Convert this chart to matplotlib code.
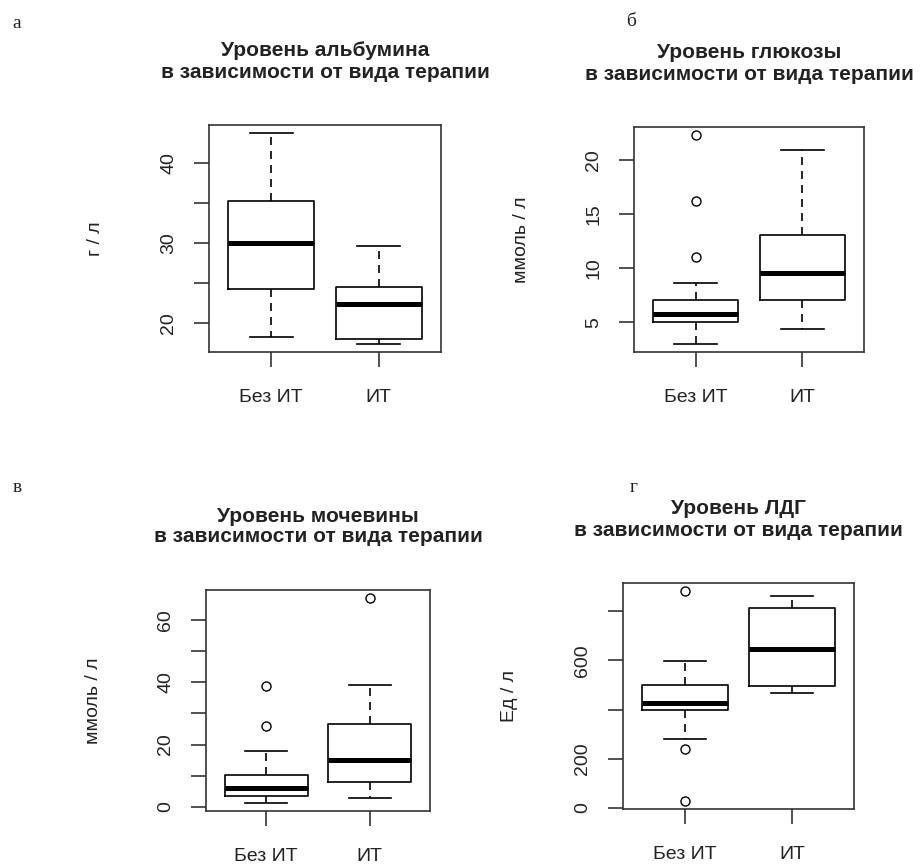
import matplotlib.pyplot as plt

# groups on the x axis
groups = ['Без ИТ', 'ИТ']

# box statistics: [Без ИТ, ИТ]
alb_low = [18.2, 17.4]
alb_q1 = [24.2, 18.0]
alb_med = [30.0, 22.3]
alb_q3 = [35.2, 24.5]
alb_high = [43.7, 29.6]
alb_out = [[], []]

glu_low = [3.0, 4.4]
glu_q1 = [5.0, 7.0]
glu_med = [5.75, 9.55]
glu_q3 = [7.0, 13.05]
glu_high = [8.6, 20.9]
glu_out = [[11.05, 16.2, 22.3], []]

urea_low = [1.3, 2.7]
urea_q1 = [3.4, 8.0]
urea_med = [5.9, 15.2]
urea_q3 = [10.1, 26.6]
urea_high = [17.9, 39.0]
urea_out = [[26.0, 38.9], [67.0]]

ldh_low = [281, 467]
ldh_q1 = [400, 495]
ldh_med = [428, 647]
ldh_q3 = [501, 814]
ldh_high = [596, 861]
ldh_out = [[30, 240, 881], []]

letters = ['а', 'б', 'в', 'г']
titles = ['Уровень альбумина', 'Уровень глюкозы', 'Уровень мочевины', 'Уровень ЛДГ']
subtitle = 'в зависимости от вида терапии'
ylabels = ['г / л', 'ммоль / л', 'ммоль / л', 'Ед / л']

yticks = [[20, 25, 30, 35, 40], [5, 10, 15, 20],
          [0, 10, 20, 30, 40, 50, 60], [0, 200, 400, 600, 800]]
ytick_labels = [['20', '', '30', '', '40'], ['5', '10', '15', '20'],
                ['0', '', '20', '', '40', '', '60'], ['0', '200', '', '600', '']]

W, H = 923, 868
fig = plt.figure(figsize=(W / 100, H / 100), dpi=100)

# axes boxes in pixels: left, top, right, bottom
boxes = [(209, 125, 441, 352), (634, 127, 864, 352),
         (206, 590, 430, 811), (623, 583, 854, 809)]
letter_pos = [(17, 24), (631, 21), (17, 487), (634, 488)]
ylabel_x = [96, 521, 93, 510]

data = [
    (alb_low, alb_q1, alb_med, alb_q3, alb_high, alb_out),
    (glu_low, glu_q1, glu_med, glu_q3, glu_high, glu_out),
    (urea_low, urea_q1, urea_med, urea_q3, urea_high, urea_out),
    (ldh_low, ldh_q1, ldh_med, ldh_q3, ldh_high, ldh_out),
]

lw = 1.2
for i, (lo, q1, med, q3, hi, out) in enumerate(data):
    l, t, r, b = boxes[i]
    ax = fig.add_axes([l / W, 1 - b / H, (r - l) / W, (b - t) / H])

    stats = []
    for j in range(len(groups)):
        stats.append(dict(whislo=lo[j], q1=q1[j], med=med[j], q3=q3[j],
                          whishi=hi[j], fliers=out[j], label=groups[j]))

    ax.bxp(stats, positions=[1, 2], widths=0.8, capwidths=0.4,
           boxprops=dict(color='black', linewidth=lw),
           medianprops=dict(color='black', linewidth=3.6, solid_capstyle='butt'),
           whiskerprops=dict(color='black', linewidth=lw, linestyle=(0, (4.8, 3.6))),
           capprops=dict(color='black', linewidth=lw),
           flierprops=dict(marker='o', markerfacecolor='none', markeredgecolor='black',
                           markersize=6.5, markeredgewidth=1.0))

    allv = lo + hi + [v for f in out for v in f]
    vmin, vmax = min(allv), max(allv)
    pad = (vmax - vmin) * 0.04
    ax.set_ylim(vmin - pad, vmax + pad)
    ax.set_xlim(0.42, 2.58)

    ax.set_yticks(yticks[i])
    ax.set_yticklabels(ytick_labels[i], rotation=90, va='center',
                       fontfamily='Liberation Sans', fontsize=14, color='#222222')
    ax.set_xticks([1, 2])
    ax.set_xticklabels(groups, fontfamily='Liberation Sans', fontsize=14, color='#222222')
    ax.tick_params(axis='both', direction='out', length=10.8, width=lw, color='#333333')
    ax.tick_params(axis='y', pad=12)
    ax.tick_params(axis='x', pad=16)
    for s in ax.spines.values():
        s.set_linewidth(lw)
        s.set_color('#333333')

    cx = (l + r) / 2
    fig.text(cx / W, 1 - (t - 74) / H, titles[i], ha='center', va='center',
             fontfamily='Liberation Sans', fontweight='bold', fontsize=15, color='#222222')
    fig.text(cx / W, 1 - (t - 53) / H, subtitle, ha='center', va='center',
             fontfamily='Liberation Sans', fontweight='bold', fontsize=15, color='#222222')

    fig.text(ylabel_x[i] / W, 1 - ((t + b) / 2) / H, ylabels[i], rotation=90,
             ha='center', va='center', fontfamily='Liberation Sans', fontsize=14,
             color='#222222')

    lx, ly = letter_pos[i]
    fig.text(lx / W, 1 - ly / H, letters[i], ha='center', va='center',
             fontfamily='Liberation Serif', fontsize=14, color='#222222')

fig.savefig('out.png', dpi=100)
